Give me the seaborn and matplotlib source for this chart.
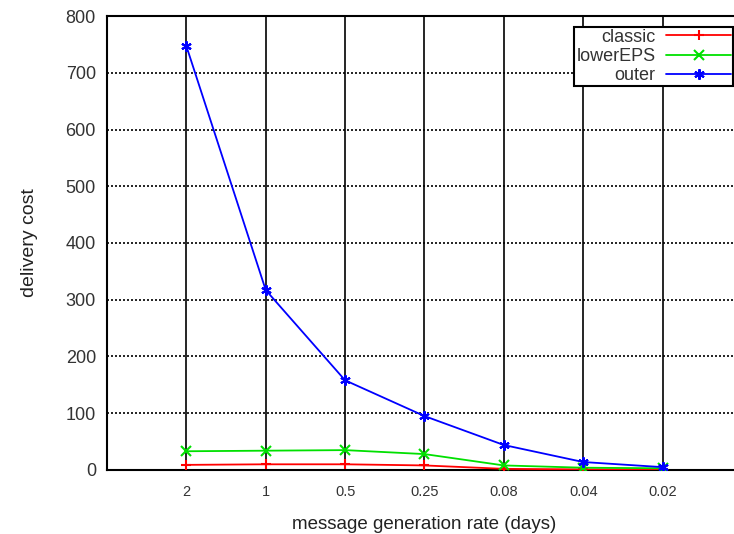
import pandas as pd
import seaborn as sns
import matplotlib.pyplot as plt

# message generation rate categories (days)
rates = ['2', '1', '0.5', '0.25', '0.08', '0.04', '0.02']

classic = [9, 10, 10, 8, 2, 1, 1]
lower_eps = [33, 34, 35, 28, 8, 4, 3]
outer = [747, 317, 158, 95, 44, 14, 5]

series_names = ['classic', 'lowerEPS', 'outer']
series_colors = ['#ff0000', '#00e000', '#0000ff']
series_markers = ['+', 'x', (6, 2, 0)]

# long format for seaborn
df = pd.DataFrame({
    'rate': rates * 3,
    'cost': classic + lower_eps + outer,
    'method': [n for n in series_names for _ in rates],
})

sns.set_style('white')
plt.rcParams['font.family'] = ['Liberation Sans', 'DejaVu Sans']

fig = plt.figure(figsize=(7.34, 5.34), dpi=100)
ax = fig.add_axes([0.1458, 0.1199, 0.865, 0.8501])

sns.lineplot(data=df, x='rate', y='cost', hue='method', style='method',
             palette=series_colors, markers=series_markers, dashes=False,
             sort=False, linewidth=1.3, markersize=7.5, markeredgewidth=1.5,
             ax=ax)

# seaborn paints marker edges white; give them the line colour instead
for line in ax.lines:
    line.set_markeredgecolor(line.get_color())
    line.set_zorder(3)

old_leg = ax.get_legend()
handles = old_leg.legend_handles
labels = [t.get_text() for t in old_leg.get_texts()]
for h in handles:
    h.set_markeredgecolor(h.get_color())

ax.set_xlim(-1, 7)
ax.set_ylim(0, 800)
ax.set_yticks(range(0, 801, 100))

# gnuplot-like grid: solid verticals, dotted horizontals
ax.grid(axis='x', color='black', linestyle='-', linewidth=1.2)
ax.grid(axis='y', color='black', linestyle=(0, (1.2, 1.2)), linewidth=1.2)
ax.set_axisbelow(True)

for s in ax.spines.values():
    s.set_color('black')
    s.set_linewidth(1.5)

ax.tick_params(axis='y', direction='in', length=0, labelsize=13, pad=8,
               labelcolor='#333333')
ax.tick_params(axis='x', direction='in', length=0, labelsize=10.5, pad=11,
               labelcolor='#333333')

ax.set_xlabel('message generation rate (days)', fontsize=13.5, labelpad=12,
              color='#222222')
ax.set_ylabel('delivery cost', fontsize=14, labelpad=20, color='#222222')

leg = ax.legend(handles, labels, loc='upper right',
                bbox_to_anchor=(0.986, 0.976),
                borderaxespad=0, markerfirst=False, fancybox=False,
                framealpha=1, edgecolor='black', fontsize=13,
                handlelength=3.6, labelspacing=0.12, borderpad=0.1,
                handletextpad=0.6)
leg.get_frame().set_linewidth(1.5)
for t in leg.get_texts():
    t.set_color('#333333')

fig.savefig('out.png', dpi=100)
